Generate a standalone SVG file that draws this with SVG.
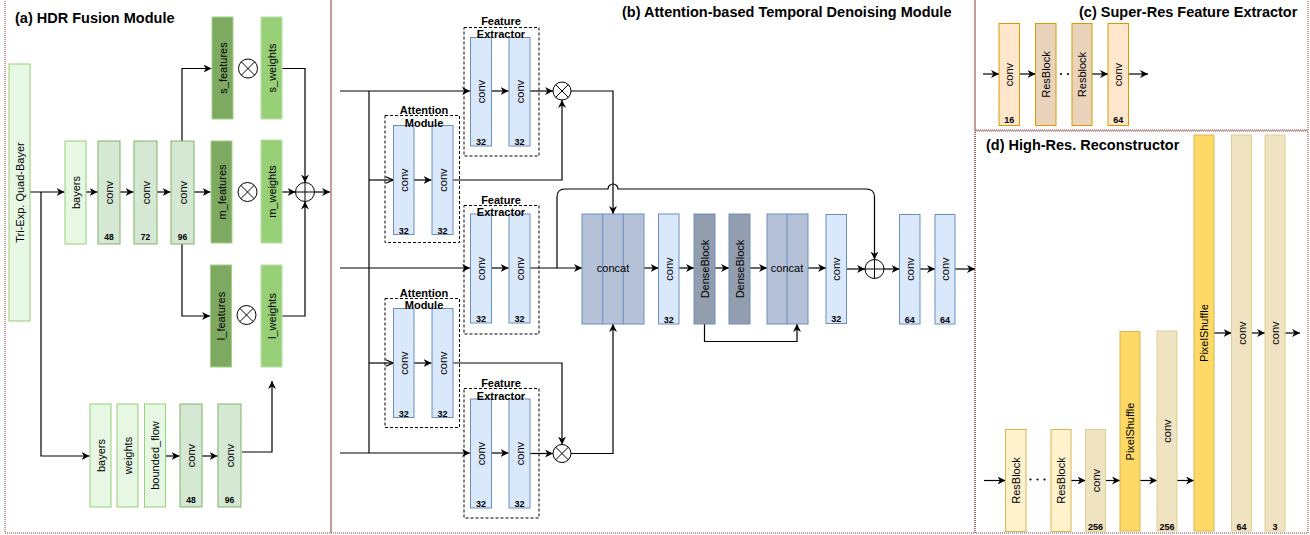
<svg xmlns="http://www.w3.org/2000/svg" width="1310" height="535" viewBox="0 0 1310 535">
<style>
text{font-family:"Liberation Sans",Arial,Helvetica,sans-serif;fill:#000}
.t{font-size:14.5px;font-weight:bold}
.l{font-size:11px;text-anchor:middle}
.n{font-size:9px;font-weight:bold;text-anchor:middle}
.n8{font-size:8.5px;font-weight:bold;text-anchor:middle}
.ml{font-size:11px;font-weight:bold;text-anchor:middle}
.panel{fill:none;stroke:#8b3a3a;stroke-width:1;stroke-dasharray:1 1}
.lg{fill:#e6f8e3;stroke:#97d077}
.cg{fill:#d5e8d4;stroke:#82b366}
.dg{fill:#7ea960;stroke:#a6cf8e}
.wg{fill:#97d077;stroke:#b9e0a5}
.cb{fill:#dae8fc;stroke:#6c8ebf}
.cc{fill:#b4c1d6;stroke:#6c8ebf}
.db{fill:#929dad;stroke:#6c8ebf}
.co{fill:#ffe6cc;stroke:#d79b00}
.rbo{fill:#ead3bb;stroke:#d79b00}
.ry{fill:#fff2cc;stroke:#d6b656}
.cy{fill:#efe3c2;stroke:#e0cf8f}
.ps{fill:#ffd966;stroke:#d6b656}
.dash{fill:none;stroke:#000;stroke-dasharray:3 2}
.op{fill:#fff;stroke:#000;stroke-width:1}
.e{fill:none;stroke:#000;stroke-width:1.2}
.ea{fill:none;stroke:#000;stroke-width:1.2;marker-end:url(#arr)}
.eo{fill:none;stroke:#000;stroke-width:1.2;marker-end:url(#arro)}
</style>
<defs>
<marker id="arr" viewBox="0 0 10 10" refX="10" refY="5" markerWidth="8" markerHeight="8" markerUnits="userSpaceOnUse" orient="auto">
<path d="M0,0 L10,5 L0,10 L3,5 Z" fill="#000"/>
</marker>
<marker id="arro" viewBox="0 0 10 10" refX="10" refY="5" markerWidth="8" markerHeight="8" markerUnits="userSpaceOnUse" orient="auto">
<path d="M1,1 L10,5 L1,9" fill="none" stroke="#000" stroke-width="1.5"/>
</marker>
</defs>
<rect width="1310" height="535" fill="#fff"/>

<!-- panels -->
<g id="panels">
<rect class="panel" x="5" y="-2" width="326" height="535"/>
<rect class="panel" x="331" y="-2" width="644" height="535"/>
<rect class="panel" x="975" y="-2" width="333" height="132"/>
<rect class="panel" x="975" y="131" width="333" height="402"/>
<text class="t" x="15" y="23">(a) HDR Fusion Module</text>
<text class="t" x="622" y="17">(b) Attention-based Temporal Denoising Module</text>
<text class="t" x="1079" y="17">(c) Super-Res Feature Extractor</text>
<text class="t" x="986" y="150">(d) High-Res. Reconstructor</text>
</g>

<!-- connectors -->
<g id="connectors">
<!-- panel a -->
<path class="ea" d="M30,192 H64.5"/>
<path class="ea" d="M41,192 V456 H89.5"/>
<path class="ea" d="M86,192 H97.5"/>
<path class="ea" d="M120,192 H133.5"/>
<path class="ea" d="M157,192 H170.5"/>
<path class="ea" d="M182,141 V68.5 H211.5"/>
<path class="ea" d="M194,192 H210.5"/>
<path class="ea" d="M182,244 V316 H210"/>
<path class="ea" d="M282,68.5 H305 V182.5"/>
<path class="ea" d="M282,192 H295.5"/>
<path class="ea" d="M282,316 H305 V201.5"/>
<path class="ea" d="M314.5,192 H330"/>
<path class="ea" d="M166,456 H179.5"/>
<path class="ea" d="M202,456 H217.5"/>
<path class="ea" d="M242,452 H272 V381"/>
<!-- panel b -->
<path class="ea" d="M340,91 H470"/>
<path class="e" d="M369,91 V453"/>
<path class="eo" d="M369,180 H393"/>
<path class="ea" d="M340,268 H470"/>
<path class="eo" d="M369,363 H393"/>
<path class="ea" d="M340,453 H470"/>
<path class="ea" d="M491.5,91 H508.5"/>
<path class="ea" d="M491.5,268 H508.5"/>
<path class="ea" d="M491.5,453 H508.5"/>
<path class="ea" d="M414,180 H431.5"/>
<path class="ea" d="M414,363 H431.5"/>
<path class="ea" d="M530,91 H553"/>
<path class="ea" d="M571,91 H613 V214"/>
<path class="ea" d="M453,180 H562 V100"/>
<path class="ea" d="M453,363 H562 V444.5"/>
<path class="ea" d="M530,453.5 H553"/>
<path class="ea" d="M571,453.5 H613 V324"/>
<path class="ea" d="M530,268 H582"/>
<path class="ea" d="M557,268 V197 Q557,189 565,189 H608 A5,5 0 0 1 618,189 H866 Q874.5,189 874.5,197 V259.5"/>
<path class="ea" d="M644,268 H658.5"/>
<path class="ea" d="M679,268 H694"/>
<path class="ea" d="M715,268 H729"/>
<path class="ea" d="M750,268 H767"/>
<path class="ea" d="M808,268 H826"/>
<path class="ea" d="M846.5,269 H865"/>
<path class="ea" d="M884,269 H899.5"/>
<path class="ea" d="M920,269 H935"/>
<path class="ea" d="M955,269 H975"/>
<path class="ea" d="M704.5,324 V341.5 H797 V324"/>
<!-- panel c -->
<path class="ea" d="M983,74 H999"/>
<path class="ea" d="M1019.5,74 H1035.5"/>
<path class="ea" d="M1092,74 H1108"/>
<path class="ea" d="M1128.5,74 H1148"/>
<!-- panel d -->
<path class="ea" d="M984,480.5 H1005.5"/>
<path class="ea" d="M1071,480.5 H1085.5"/>
<path class="ea" d="M1105.5,480.5 H1120"/>
<path class="ea" d="M1140,480.5 H1157"/>
<path class="ea" d="M1177,480.5 H1194"/>
<path class="ea" d="M1214,333 H1231.5"/>
<path class="ea" d="M1251.5,333 H1265"/>
<path class="ea" d="M1285,333 H1300"/>
</g>

<!-- ===== Panel (a) nodes ===== -->
<g id="tri-exp"><rect class="lg" x="9" y="64" width="21" height="257"/><text style="font-size:11px;text-anchor:middle" transform="rotate(-90 19.5 192.5)" x="19.5" y="196.5">Tri-Exp. Quad-Bayer</text></g>
<g id="a-bayers1"><rect class="lg" x="65" y="141" width="21" height="103"/><text class="l" transform="rotate(-90 75.5 192.5)" x="75.5" y="196.5">bayers</text></g>
<g id="a-conv48"><rect class="cg" x="98" y="141" width="22" height="103"/><text class="l" transform="rotate(-90 109 192.5)" x="109" y="196.5">conv</text><text class="n8" x="109" y="240">48</text></g>
<g id="a-conv72"><rect class="cg" x="134" y="141" width="23" height="103"/><text class="l" transform="rotate(-90 145.5 192.5)" x="145.5" y="196.5">conv</text><text class="n8" x="145.5" y="240">72</text></g>
<g id="a-conv96"><rect class="cg" x="171" y="141" width="23" height="103"/><text class="l" transform="rotate(-90 182.5 192.5)" x="182.5" y="196.5">conv</text><text class="n8" x="182.5" y="240">96</text></g>
<g id="s-features"><rect class="dg" x="212" y="17" width="21" height="102"/><text class="l" transform="rotate(-90 222.5 68)" x="222.5" y="72">s_features</text></g>
<g id="s-weights"><rect class="wg" x="261" y="17" width="21" height="102"/><text class="l" transform="rotate(-90 271.5 68)" x="271.5" y="72">s_weights</text></g>
<g id="s-mul"><circle class="op" cx="248" cy="68.5" r="9.5"/><path d="M241.3,61.8 L254.7,75.2 M254.7,61.8 L241.3,75.2" stroke="#000"/></g>
<g id="m-features"><rect class="dg" x="211" y="141" width="21" height="102"/><text class="l" transform="rotate(-90 221.5 192)" x="221.5" y="196">m_features</text></g>
<g id="m-weights"><rect class="wg" x="261" y="140" width="21" height="103"/><text class="l" transform="rotate(-90 271.5 191.5)" x="271.5" y="195.5">m_weights</text></g>
<g id="m-mul"><circle class="op" cx="247.5" cy="192" r="9.5"/><path d="M240.8,185.3 L254.2,198.7 M254.2,185.3 L240.8,198.7" stroke="#000"/></g>
<g id="l-features"><rect class="dg" x="210.5" y="265" width="21" height="102"/><text class="l" transform="rotate(-90 221 316)" x="221" y="320">l_features</text></g>
<g id="l-weights"><rect class="wg" x="261" y="265" width="21" height="102"/><text class="l" transform="rotate(-90 271.5 316)" x="271.5" y="320">l_weights</text></g>
<g id="l-mul"><circle class="op" cx="246.5" cy="315" r="9.5"/><path d="M239.8,308.3 L253.2,321.7 M253.2,308.3 L239.8,321.7" stroke="#000"/></g>
<g id="a-sum"><circle class="op" cx="305" cy="192" r="9.5"/><path d="M295.5,192 H314.5 M305,182.5 V201.5" stroke="#000"/></g>
<g id="a-bayers2"><rect class="lg" x="90" y="404" width="21" height="103"/><text class="l" transform="rotate(-90 100.5 455.5)" x="100.5" y="459.5">bayers</text></g>
<g id="a-weights"><rect class="lg" x="117" y="404" width="21" height="103"/><text class="l" transform="rotate(-90 127.5 455.5)" x="127.5" y="459.5">weights</text></g>
<g id="a-flow"><rect class="lg" x="144.5" y="404" width="21" height="103"/><text class="l" transform="rotate(-90 155 455.5)" x="155" y="459.5">bounded_flow</text></g>
<g id="a-conv48b"><rect class="cg" x="180" y="404" width="22" height="103"/><text class="l" transform="rotate(-90 191 455.5)" x="191" y="459.5">conv</text><text class="n8" x="191" y="503">48</text></g>
<g id="a-conv96b"><rect class="cg" x="218" y="404" width="23" height="103"/><text class="l" transform="rotate(-90 229.5 455.5)" x="229.5" y="459.5">conv</text><text class="n8" x="229.5" y="503">96</text></g>

<!-- ===== Panel (b) nodes ===== -->
<g id="fe1"><rect class="dash" x="464" y="27.5" width="75" height="128.5"/>
<rect class="cb" x="470.5" y="37.5" width="21" height="108.5"/><text class="l" transform="rotate(-90 481 91.5)" x="481" y="95.5">conv</text><text class="n" x="481" y="145">32</text>
<rect class="cb" x="509" y="37.5" width="21" height="108.5"/><text class="l" transform="rotate(-90 519.5 91.5)" x="519.5" y="95.5">conv</text><text class="n" x="519.5" y="145">32</text>
<text class="ml" x="501" y="25">Feature</text><text class="ml" x="501" y="37.5">Extractor</text></g>
<g id="am1"><rect class="dash" x="385" y="115.5" width="74.5" height="127"/>
<rect class="cb" x="393.5" y="125.5" width="20.5" height="109"/><text class="l" transform="rotate(-90 403.75 180)" x="403.75" y="184">conv</text><text class="n" x="403.75" y="233.5">32</text>
<rect class="cb" x="432" y="125.5" width="21" height="109"/><text class="l" transform="rotate(-90 442.5 180)" x="442.5" y="184">conv</text><text class="n" x="442.5" y="233.5">32</text>
<text class="ml" x="424" y="114">Attention</text><text class="ml" x="424" y="126.5">Module</text></g>
<g id="fe2"><rect class="dash" x="464" y="205.5" width="75" height="128.5"/>
<rect class="cb" x="470.5" y="214" width="21" height="109"/><text class="l" transform="rotate(-90 481 268.5)" x="481" y="272.5">conv</text><text class="n" x="481" y="322">32</text>
<rect class="cb" x="509" y="214" width="21" height="109"/><text class="l" transform="rotate(-90 519.5 268.5)" x="519.5" y="272.5">conv</text><text class="n" x="519.5" y="322">32</text>
<text class="ml" x="501" y="203.5">Feature</text><text class="ml" x="501" y="216">Extractor</text></g>
<g id="am2"><rect class="dash" x="385" y="298.5" width="74.5" height="129"/>
<rect class="cb" x="393.5" y="308.5" width="20.5" height="109"/><text class="l" transform="rotate(-90 403.75 363)" x="403.75" y="367">conv</text><text class="n" x="403.75" y="416.5">32</text>
<rect class="cb" x="432" y="308.5" width="21" height="109"/><text class="l" transform="rotate(-90 442.5 363)" x="442.5" y="367">conv</text><text class="n" x="442.5" y="416.5">32</text>
<text class="ml" x="424" y="296.5">Attention</text><text class="ml" x="424" y="309">Module</text></g>
<g id="fe3"><rect class="dash" x="464" y="388.5" width="75" height="129.5"/>
<rect class="cb" x="470.5" y="399" width="21" height="109"/><text class="l" transform="rotate(-90 481 453.5)" x="481" y="457.5">conv</text><text class="n" x="481" y="507">32</text>
<rect class="cb" x="509" y="399" width="21" height="109"/><text class="l" transform="rotate(-90 519.5 453.5)" x="519.5" y="457.5">conv</text><text class="n" x="519.5" y="507">32</text>
<text class="ml" x="501" y="387">Feature</text><text class="ml" x="501" y="399.5">Extractor</text></g>
<g id="b-mul1"><circle class="op" cx="562" cy="91" r="9"/><path d="M555.6,84.6 L568.4,97.4 M568.4,84.6 L555.6,97.4" stroke="#000"/></g>
<g id="b-mul3"><circle class="op" cx="562" cy="453.5" r="9"/><path d="M555.6,447.1 L568.4,459.9 M568.4,447.1 L555.6,459.9" stroke="#000"/></g>
<g id="concat1"><rect class="cc" x="582" y="214" width="62" height="110"/><path d="M602.7,214 V324 M623.3,214 V324" stroke="#6c8ebf"/><text class="l" x="613" y="272">concat</text></g>
<g id="b-conv32a"><rect class="cb" x="658.5" y="214" width="20.5" height="110"/><text class="l" transform="rotate(-90 668.75 269)" x="668.75" y="273">conv</text><text class="n" x="668.75" y="322.5">32</text></g>
<g id="denseblock1"><rect class="db" x="694" y="214" width="21" height="110"/><text class="l" transform="rotate(-90 704.5 269)" x="704.5" y="273">DenseBlock</text></g>
<g id="denseblock2"><rect class="db" x="729" y="214" width="21" height="110"/><text class="l" transform="rotate(-90 739.5 269)" x="739.5" y="273">DenseBlock</text></g>
<g id="concat2"><rect class="cc" x="767" y="214" width="41" height="110"/><path d="M787,214 V324" stroke="#6c8ebf"/><text class="l" x="787" y="272">concat</text></g>
<g id="b-conv32b"><rect class="cb" x="826" y="214.5" width="20.5" height="109"/><text class="l" transform="rotate(-90 836.25 269)" x="836.25" y="273">conv</text><text class="n" x="836.25" y="322">32</text></g>
<g id="b-sum"><circle class="op" cx="874.5" cy="269" r="9.5"/><path d="M865,269 H884 M874.5,259.5 V278.5" stroke="#000"/></g>
<g id="b-conv64a"><rect class="cb" x="899.5" y="214.5" width="20.5" height="109.5"/><text class="l" transform="rotate(-90 909.75 269)" x="909.75" y="273">conv</text><text class="n" x="909.75" y="322.5">64</text></g>
<g id="b-conv64b"><rect class="cb" x="935" y="214.5" width="20" height="109.5"/><text class="l" transform="rotate(-90 945 269)" x="945" y="273">conv</text><text class="n" x="945" y="322.5">64</text></g>

<!-- ===== Panel (c) nodes ===== -->
<g id="c-conv16"><rect class="co" x="999" y="23.5" width="20.5" height="102"/><text class="l" transform="rotate(-90 1009.25 74.5)" x="1009.25" y="78.5">conv</text><text class="n" x="1009.25" y="123">16</text></g>
<g id="c-resblock1"><rect class="rbo" x="1035.5" y="23.5" width="20.5" height="102"/><text class="l" transform="rotate(-90 1045.75 74.5)" x="1045.75" y="78.5">ResBlock</text></g>
<g id="c-dots"><circle cx="1061" cy="74" r="1.1" fill="#000"/><circle cx="1068" cy="74" r="1.1" fill="#000"/></g>
<g id="c-resblock2"><rect class="rbo" x="1072" y="23.5" width="20" height="102"/><text class="l" transform="rotate(-90 1082 74.5)" x="1082" y="78.5">Resblock</text></g>
<g id="c-conv64"><rect class="co" x="1108" y="23.5" width="20.5" height="102"/><text class="l" transform="rotate(-90 1118.25 74.5)" x="1118.25" y="78.5">conv</text><text class="n" x="1118.25" y="123">64</text></g>

<!-- ===== Panel (d) nodes ===== -->
<g id="d-resblock1"><rect class="ry" x="1005.5" y="429.5" width="20.5" height="102"/><text class="l" transform="rotate(-90 1015.75 480.5)" x="1015.75" y="484.5">ResBlock</text></g>
<g id="d-dots"><circle cx="1030.5" cy="479.5" r="1.1" fill="#000"/><circle cx="1037.5" cy="479.5" r="1.1" fill="#000"/><circle cx="1044.5" cy="479.5" r="1.1" fill="#000"/></g>
<g id="d-resblock2"><rect class="ry" x="1051" y="429.5" width="20" height="102"/><text class="l" transform="rotate(-90 1061 480.5)" x="1061" y="484.5">ResBlock</text></g>
<g id="d-conv256a"><rect class="cy" x="1085.5" y="429.5" width="20" height="102"/><text class="l" transform="rotate(-90 1095.5 480.5)" x="1095.5" y="484.5">conv</text><text class="n" x="1095.5" y="530">256</text></g>
<g id="d-pixelshuffle1"><rect class="ps" x="1120" y="331.5" width="20" height="199.5"/><text class="l" transform="rotate(-90 1130 431.5)" x="1130" y="435.5">PixelShuffle</text></g>
<g id="d-conv256b"><rect class="cy" x="1157" y="331" width="20" height="200"/><text class="l" transform="rotate(-90 1167 431)" x="1167" y="435">conv</text><text class="n" x="1167" y="529.5">256</text></g>
<g id="d-pixelshuffle2"><rect class="ps" x="1194" y="135" width="20" height="396"/><text class="l" transform="rotate(-90 1204 333)" x="1204" y="337">PixelShuffle</text></g>
<g id="d-conv64"><rect class="cy" x="1231.5" y="135" width="20" height="396"/><text class="l" transform="rotate(-90 1241.5 333)" x="1241.5" y="337">conv</text><text class="n" x="1241.5" y="529.5">64</text></g>
<g id="d-conv3"><rect class="cy" x="1265" y="135" width="20" height="396"/><text class="l" transform="rotate(-90 1275 333)" x="1275" y="337">conv</text><text class="n" x="1275" y="529.5">3</text></g>
</svg>
